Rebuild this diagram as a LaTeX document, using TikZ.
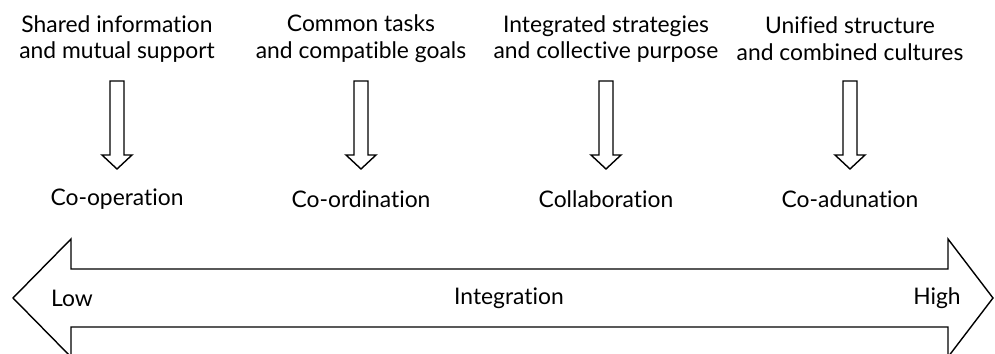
\documentclass[tikz,border=0pt]{standalone}
\usepackage{fontspec}
\setmainfont{Lato}[Ligatures=NoCommon]
\usetikzlibrary{calc}

\begin{document}
\begin{tikzpicture}[x=0.02cm, y=-0.02cm]

        \tikzstyle{stagetext} = [align=center, font=\fontsize{13}{15.2}\selectfont, inner sep=0];
        \tikzstyle{stagename} = [font=\fontsize{13}{15.2}\selectfont, inner sep=0];
        \tikzstyle{hollow} = [draw, line width=0.8pt, line join=miter, fill=white];

        \useasboundingbox (0,0) rectangle (995,354);

        % Top - stages
        \node[stagetext] (T1) at (117,39) {Shared information\\and mutual support};
        \node[stagetext] (T2) at (361,39) {Common tasks\\and compatible goals};
        \node[stagetext] (T3) at (606,39) {Integrated strategies\\and collective purpose};
        \node[stagetext] (T4) at (850,39) {Unified structure\\and combined cultures};

        \node[stagename] (S1) at (117,199) {Co-operation};
        \node[stagename] (S2) at (361,199) {Co-ordination};
        \node[stagename] (S3) at (606,199) {Collaboration};
        \node[stagename] (S4) at (850,199) {Co-adunation};

        \coordinate (A1) at ($(T1)+(0,42)$);
        \coordinate (B1) at ($(S1)+(0,-30)$);
        \coordinate (A2) at ($(T2)+(0,42)$);
        \coordinate (B2) at ($(S2)+(0,-30)$);
        \coordinate (A3) at ($(T3)+(0,42)$);
        \coordinate (B3) at ($(S3)+(0,-30)$);
        \coordinate (A4) at ($(T4)+(0,42)$);
        \coordinate (B4) at ($(S4)+(0,-30)$);

        \draw[hollow] ($(A1)+(-7,0)$) -- ($(B1)+(-7,-14)$) -- ($(B1)+(-15,-14)$) -- (B1)
            -- ($(B1)+(15,-14)$) -- ($(B1)+(7,-14)$) -- ($(A1)+(7,0)$) -- cycle;
        \draw[hollow] ($(A2)+(-7,0)$) -- ($(B2)+(-7,-14)$) -- ($(B2)+(-15,-14)$) -- (B2)
            -- ($(B2)+(15,-14)$) -- ($(B2)+(7,-14)$) -- ($(A2)+(7,0)$) -- cycle;
        \draw[hollow] ($(A3)+(-7,0)$) -- ($(B3)+(-7,-14)$) -- ($(B3)+(-15,-14)$) -- (B3)
            -- ($(B3)+(15,-14)$) -- ($(B3)+(7,-14)$) -- ($(A3)+(7,0)$) -- cycle;
        \draw[hollow] ($(A4)+(-7,0)$) -- ($(B4)+(-7,-14)$) -- ($(B4)+(-15,-14)$) -- (B4)
            -- ($(B4)+(15,-14)$) -- ($(B4)+(7,-14)$) -- ($(A4)+(7,0)$) -- cycle;
        % Top - stages

        % Bottom - scale
        \coordinate (LT) at (13,298);
        \coordinate (RT) at (993,298);

        \draw[hollow] (LT) -- ($(LT)+(58,-59)$) -- ($(LT)+(58,-29)$) -- ($(RT)+(-45,-29)$)
            -- ($(RT)+(-45,-59)$) -- (RT) -- ($(RT)+(-45,59)$) -- ($(RT)+(-45,29)$)
            -- ($(LT)+(58,29)$) -- ($(LT)+(58,59)$) -- cycle;

        \node[stagename] (LOW) at (72,298) {Low};
        \node[stagename] (INT) at (509,298) {Integration};
        \node[stagename] (HIGH) at (937,298) {High};
        % Bottom - scale

\end{tikzpicture}
\end{document}
